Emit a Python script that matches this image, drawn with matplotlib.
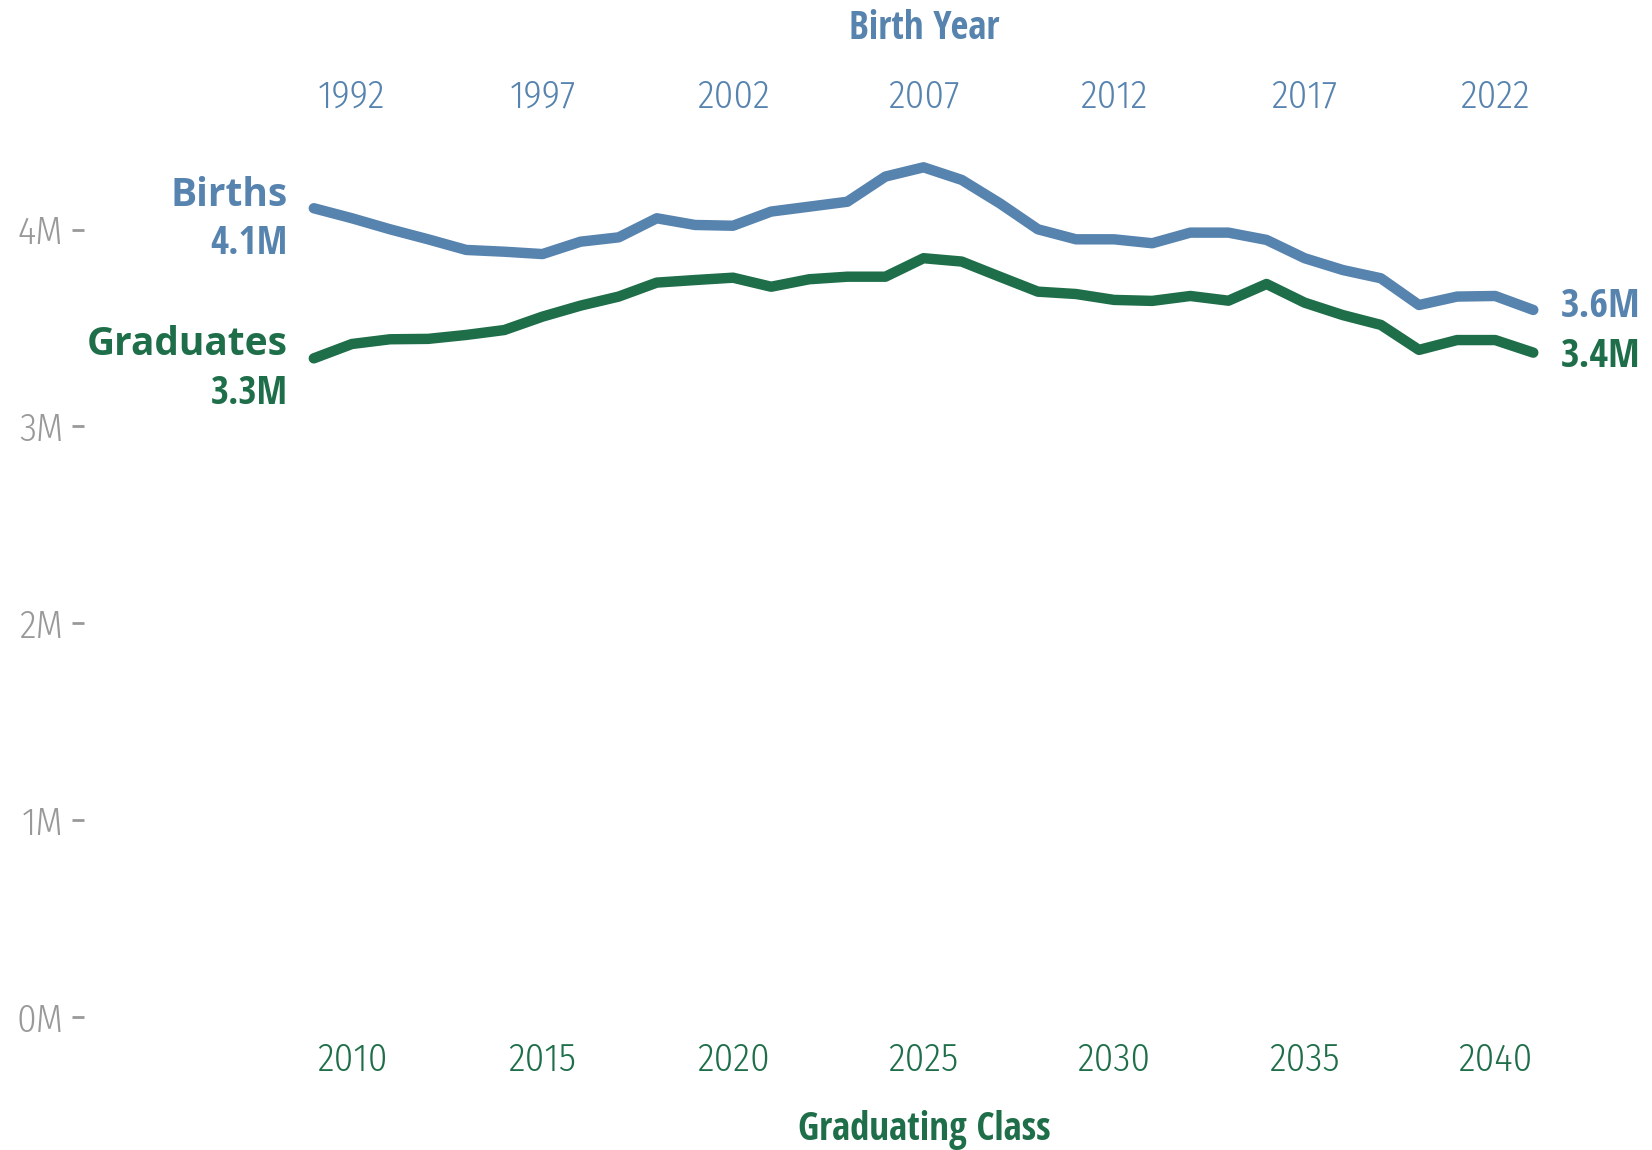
import matplotlib
matplotlib.use("Agg")
import matplotlib.pyplot as plt
from matplotlib import font_manager

# ---------------- data ----------------
grad_class = list(range(2009, 2042))
births = [4.109, 4.058, 4.002, 3.951, 3.897, 3.888, 3.876, 3.939, 3.961, 4.058,
          4.024, 4.020, 4.092, 4.117, 4.142, 4.270, 4.317, 4.253, 4.134, 4.002,
          3.951, 3.951, 3.931, 3.985, 3.985, 3.948, 3.855, 3.795, 3.753, 3.617,
          3.660, 3.663, 3.592]
graduates = [3.346, 3.419, 3.443, 3.445, 3.465, 3.490, 3.558, 3.614, 3.660, 3.731,
             3.744, 3.756, 3.710, 3.748, 3.761, 3.761, 3.855, 3.838, 3.761, 3.685,
             3.673, 3.643, 3.638, 3.663, 3.639, 3.724, 3.629, 3.566, 3.516, 3.389,
             3.439, 3.439, 3.375]
bottom_ticks = [2010, 2015, 2020, 2025, 2030, 2035, 2040]
top_ticks = [1992, 1997, 2002, 2007, 2012, 2017, 2022]
y_ticks = [0, 1, 2, 3, 4]
y_labels = ["0M", "1M", "2M", "3M", "4M"]

BLUE = "#5783AF"
GREEN = "#1F6E4A"
GRAY = "#999999"

fl = font_manager.fontManager.ttflist
names = {f.name for f in fl}

# bold condensed font
bold_cond = "DejaVu Sans"
for cand in ["Open Sans Condensed", "Fira Sans Condensed", "Barlow Condensed"]:
    if cand in names:
        bold_cond = cand
        break

# light condensed font
light_name, light_weight = None, 300
for f in fl:
    if f.name.startswith("Open Sans Condensed") and int(f.weight) < 500 and f.style == "normal":
        light_name, light_weight = f.name, int(f.weight)
        break
if light_name is None:
    for cand in ["Fira Sans Condensed", "Barlow Condensed", "Encode Sans Condensed"]:
        if cand in names:
            light_name, light_weight = cand, 300
            break
if light_name is None:
    light_name, light_weight = "DejaVu Sans", 400

BCOND = [bold_cond, "DejaVu Sans"]
LCOND = [light_name, "DejaVu Sans"]
REG = ["Open Sans", "DejaVu Sans"]

W, H = 1652, 1150
fig = plt.figure(figsize=(W / 100, H / 100), dpi=100)
ax = fig.add_axes([84 / W, 1 - 1030 / H, (1640 - 84) / W, (1030 - 125) / H])

ax.plot(grad_class, births, color=BLUE, lw=7.5, solid_capstyle="round", solid_joinstyle="round")
ax.plot(grad_class, graduates, color=GREEN, lw=7.5, solid_capstyle="round", solid_joinstyle="round")

ax.set_xlim(2002.97, 2043.8)
ax.set_ylim(-0.0676, 4.532)
for s in ax.spines.values():
    s.set_visible(False)

tick_kw = dict(fontfamily=LCOND, fontweight=light_weight, fontsize=28)
ax.set_yticks(y_ticks)
ax.set_yticklabels(y_labels, color=GRAY, **tick_kw)
ax.tick_params(axis="y", length=9, width=2, color=GRAY, pad=6)

ax.set_xticks(bottom_ticks)
ax.set_xticklabels([str(t) for t in bottom_ticks], color=GREEN, **tick_kw)
ax.tick_params(axis="x", length=0, pad=8)

sec = ax.secondary_xaxis("top", functions=(lambda x: x - 18, lambda x: x + 18))
sec.set_xticks(top_ticks)
sec.set_xticklabels([str(t) for t in top_ticks], color=BLUE, **tick_kw)
sec.tick_params(axis="x", length=0, pad=7)
for s in sec.spines.values():
    s.set_visible(False)

fig.text(924 / W, 1 - 29 / H, "Birth Year", ha="center", va="center",
         fontfamily=BCOND, fontweight="bold", fontsize=28, color=BLUE)
fig.text(924 / W, 1 - 1130 / H, "Graduating Class", ha="center", va="center",
         fontfamily=BCOND, fontweight="bold", fontsize=28, color=GREEN)

# left labels
ax.annotate("Births", (grad_class[0], births[0]), xytext=(-26, 13), textcoords="offset pixels",
            ha="right", va="center", fontfamily=REG, fontweight="bold", fontsize=28, color=BLUE)
ax.annotate(f"{births[0]:.1f}M", (grad_class[0], births[0]), xytext=(-26, -36), textcoords="offset pixels",
            ha="right", va="center", fontfamily=BCOND, fontweight="bold", fontsize=28, color=BLUE)
ax.annotate("Graduates", (grad_class[0], graduates[0]), xytext=(-26, 14), textcoords="offset pixels",
            ha="right", va="center", fontfamily=REG, fontweight="bold", fontsize=28, color=GREEN)
ax.annotate(f"{graduates[0]:.1f}M", (grad_class[0], graduates[0]), xytext=(-26, -36), textcoords="offset pixels",
            ha="right", va="center", fontfamily=BCOND, fontweight="bold", fontsize=28, color=GREEN)
# right labels
ax.annotate(f"{births[-1]:.1f}M", (grad_class[-1], births[-1]), xytext=(28, 3), textcoords="offset pixels",
            ha="left", va="center", fontfamily=BCOND, fontweight="bold", fontsize=29, color=BLUE)
ax.annotate(f"{graduates[-1]:.1f}M", (grad_class[-1], graduates[-1]), xytext=(28, -4), textcoords="offset pixels",
            ha="left", va="center", fontfamily=BCOND, fontweight="bold", fontsize=29, color=GREEN)

fig.savefig("out.png", dpi=100)
